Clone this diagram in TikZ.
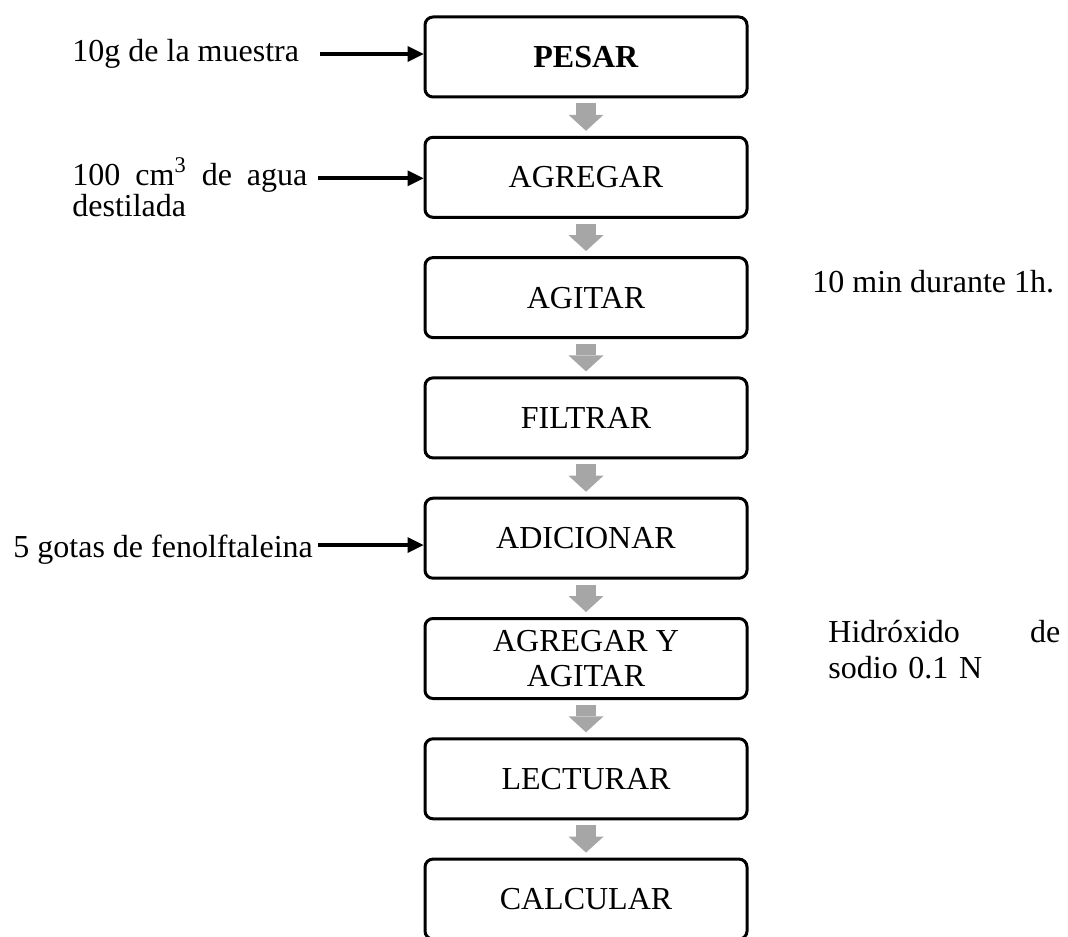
\documentclass[tikz,border=0pt]{standalone}
\usepackage{fontspec}
\setmainfont{Liberation Serif}
\usetikzlibrary{arrows.meta}
\definecolor{flechagris}{RGB}{166,166,166}

\begin{document}
\begin{tikzpicture}[
		x=0.5pt, y=-0.5pt,
		paso/.style={draw, rounded corners=4pt, line width=1.5pt, minimum width=161pt, minimum height=40pt, inner sep=0pt, align=center, font=\fontsize{16}{17.5}\selectfont},
		entrada/.style={inner sep=0pt, anchor=base west, font=\fontsize{16}{19}\selectfont},
		flujo/.style={flechagris, line width=10pt, -{Triangle[length=8pt,width=17.5pt,line width=0pt]}, shorten <=2.5pt, shorten >=2.5pt},
		insumo/.style={line width=2.2pt, -{Triangle[length=8pt,width=8pt,line width=0pt]}},
		line join=miter
		]
		\useasboundingbox (0,0) rectangle (1068,936);
		
		% ---- pasos ----
		\node[paso] (pesar)     at (586,57)    {\textbf{PESAR}};
		\node[paso] (agregar)   at (586,177.3) {AGREGAR};
		\node[paso] (agitar)    at (586,297.6) {AGITAR};
		\node[paso] (filtrar)   at (586,417.9) {FILTRAR};
		\node[paso] (adicionar) at (586,538.2) {ADICIONAR};
		\node[paso] (agregarb)  at (586,658.5) {\raisebox{-1.5pt}{\parbox{161pt}{\centering AGREGAR Y\\AGITAR}}};
		\node[paso] (lecturar)  at (586,778.8) {LECTURAR};
		\node[paso] (calcular)  at (586,899.1) {CALCULAR};
		
		% ---- textos ----
		\node[entrada] (muestra) at (72,62) {10g de la muestra};
		\node[entrada, text width=117.5pt, align=left, font=\fontsize{16}{14}\selectfont] (agua) at (72,185) {100\hfill cm\textsuperscript{3}\hfill de\hfill agua\\destilada};
		\node[entrada] (fenol) at (13,557) {5 gotas de fenolftaleina};
		\node[entrada] (tiempo) at (812,292) {10 min durante 1h.};
		\node[entrada, text width=116pt, align=left, font=\fontsize{16}{18}\selectfont] (hidroxido) at (828,642) {Hidróxido\hfill de\\sodio 0.1 N};
		
		\coordinate (m1) at (320,54);
		\coordinate (m2) at (318,178.3);
		\coordinate (m3) at (318,545);
		
		% ---- flechas ----
		\draw[flujo] (pesar.south)     -- (agregar.north);
		\draw[flujo] (agregar.south)   -- (agitar.north);
		\draw[flujo] (agitar.south)    -- (filtrar.north);
		\draw[flujo] (filtrar.south)   -- (adicionar.north);
		\draw[flujo] (adicionar.south) -- (agregarb.north);
		\draw[flujo] (agregarb.south)  -- (lecturar.north);
		\draw[flujo] (lecturar.south)  -- (calcular.north);
		
		\draw[insumo] (m1) -- (m1 -| pesar.west);
		\draw[insumo] (m2) -- (m2 -| agregar.west);
		\draw[insumo] (m3) -- (m3 -| adicionar.west);
	\end{tikzpicture}
\end{document}
